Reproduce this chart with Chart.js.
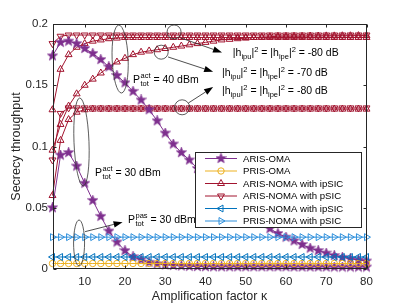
<!DOCTYPE html>
<html><head><meta charset="utf-8">
<script src="https://cdn.jsdelivr.net/npm/chart.js@4/dist/chart.umd.min.js"></script>
<style>
html,body{margin:0;padding:0;background:#fff;}
#wrap{position:relative;width:406px;height:305px;overflow:hidden;}
canvas{display:block;}
.ann{position:absolute;font-family:"Liberation Sans",Arial,Helvetica,sans-serif;font-size:10.5px;color:#000;white-space:nowrap;line-height:12px;transform:translateY(-50%);}
.ann sub,.ann sup{font-size:7.5px;line-height:0;}
.stk{display:inline-block;vertical-align:middle;line-height:8px;font-size:7.5px;text-align:left;margin-left:0.5px;}
</style></head>
<body>
<div id="wrap">
<canvas id="c" width="406" height="305"></canvas>
<div class="ann" id="t1">|h<sub>ipu</sub>|<sup>2</sup> = |h<sub>ipe</sub>|<sup>2</sup> = -80 dB</div>
<div class="ann" id="t2">|h<sub>ipu</sub>|<sup>2</sup> = |h<sub>ipe</sub>|<sup>2</sup> = -70 dB</div>
<div class="ann" id="t3">|h<sub>ipu</sub>|<sup>2</sup> = |h<sub>ipe</sub>|<sup>2</sup> = -80 dB</div>
<div class="ann" id="t4">P<span class="stk">act<br>tot</span> = 40 dBm</div>
<div class="ann" id="t5">P<span class="stk">act<br>tot</span> = 30 dBm</div>
<div class="ann" id="t6">P<span class="stk">pas<br>tot</span> = 30 dBm</div>
</div>
<script>
// ---- data ----
const xs = [2,4,6,8,10,12,14,16,18,20,22,24,26,28,30,32,34,36,38,40,42,44,46,48,50,52,54,56,58,60,62,64,66,68,70,72,74,76,78,80];
const xTicks = [10,20,30,40,50,60,70,80];
const yTicks = [0,0.05,0.1,0.15,0.2];

const arisOma40 = [0.174,0.185,0.186,0.184,0.180,0.176,0.171,0.165,0.158,0.152,0.145,0.138,0.130,0.121,0.111,0.102,0.095,0.089,0.082,0.076,0.070,0.064,0.058,0.053,0.048,0.043,0.038,0.033,0.029,0.026,0.023,0.020,0.017,0.015,0.013,0.011,0.0095,0.0083,0.0073,0.0065];
const arisOma30 = [0.050,0.093,0.095,0.084,0.070,0.056,0.043,0.031,0.022,0.015,0.010,0.0075,0.0055,0.0042,0.0034,0.0029,0.0025,0.0022,0.0020,0.0019,0.0018,0.0018,0.0018,0.0018,0.0018,0.0018,0.0018,0.0018,0.0018,0.0018,0.0017,0.0017,0.0017,0.0017,0.0017,0.0016,0.0016,0.0016,0.0016,0.0016];
const prisOma = [0.0045,0.0045,0.0045,0.0045,0.0045,0.0045,0.0045,0.0045,0.0045,0.0045,0.0045,0.0045,0.0045,0.0045,0.0045,0.0045,0.0045,0.0045,0.0045,0.0045,0.0045,0.0045,0.0045,0.0045,0.0045,0.0045,0.0045,0.0045,0.0045,0.0045,0.0045,0.0045,0.0045,0.0045,0.0045,0.0045,0.0045,0.0045,0.0045,0.0045];
const arisNomaIp40m80 = [0.130,0.163,0.175,0.181,0.184,0.186,0.187,0.188,0.1885,0.189,0.189,0.189,0.189,0.189,0.189,0.189,0.189,0.189,0.189,0.189,0.189,0.189,0.189,0.189,0.189,0.189,0.189,0.189,0.189,0.189,0.189,0.189,0.189,0.189,0.189,0.189,0.189,0.189,0.189,0.189];
const arisNomaIp40m70 = [0.097,0.118,0.133,0.143,0.150,0.155,0.160,0.165,0.169,0.172,0.175,0.177,0.178,0.179,0.180,0.181,0.182,0.183,0.184,0.185,0.186,0.187,0.1875,0.188,0.1885,0.189,0.1893,0.1896,0.190,0.190,0.190,0.190,0.1902,0.1902,0.1903,0.1903,0.1904,0.1904,0.1905,0.1905];
const arisNomaIp30m80 = [0.060,0.105,0.122,0.128,0.130,0.1305,0.1305,0.1305,0.1305,0.1305,0.1305,0.1305,0.1305,0.1305,0.1305,0.1305,0.1305,0.1305,0.1305,0.1305,0.1305,0.1305,0.1305,0.1305,0.1305,0.1305,0.1305,0.1305,0.1305,0.1305,0.1305,0.1305,0.1305,0.1305,0.1305,0.1305,0.1305,0.1305,0.1305,0.1305];
const arisNomaP40 = [0.184,0.190,0.191,0.191,0.191,0.191,0.191,0.191,0.191,0.191,0.191,0.191,0.191,0.191,0.191,0.191,0.191,0.191,0.191,0.191,0.191,0.191,0.191,0.191,0.191,0.191,0.191,0.191,0.191,0.191,0.191,0.191,0.191,0.191,0.191,0.191,0.191,0.191,0.191,0.191];
const arisNomaP30 = [0.089,0.127,0.1315,0.1315,0.1315,0.1315,0.1315,0.1315,0.1315,0.1315,0.1315,0.1315,0.1315,0.1315,0.1315,0.1315,0.1315,0.1315,0.1315,0.1315,0.1315,0.1315,0.1315,0.1315,0.1315,0.1315,0.1315,0.1315,0.1315,0.1315,0.1315,0.1315,0.1315,0.1315,0.1315,0.1315,0.1315,0.1315,0.1315,0.1315];
const prisNomaIp = [0.0098,0.0098,0.0098,0.0098,0.0098,0.0098,0.0098,0.0098,0.0098,0.0098,0.0098,0.0098,0.0098,0.0098,0.0098,0.0098,0.0098,0.0098,0.0098,0.0098,0.0098,0.0098,0.0098,0.0098,0.0098,0.0098,0.0098,0.0098,0.0098,0.0098,0.0098,0.0098,0.0098,0.0098,0.0098,0.0098,0.0098,0.0098,0.0098,0.0098];
const prisNomaP = [0.026,0.026,0.026,0.026,0.026,0.026,0.026,0.026,0.026,0.026,0.026,0.026,0.026,0.026,0.026,0.026,0.026,0.026,0.026,0.026,0.026,0.026,0.026,0.026,0.026,0.026,0.026,0.026,0.026,0.026,0.026,0.026,0.026,0.026,0.026,0.026,0.026,0.026,0.026,0.026];

const legendLabels = ['ARIS-OMA','PRIS-OMA','ARIS-NOMA with ipSIC','ARIS-NOMA with pSIC','PRIS-NOMA with ipSIC','PRIS-NOMA with pSIC'];

// ---- styling ----
const COL = {purple:'#7E2F8E', orange:'#EDB120', red:'#A2142F', blue1:'#0072BD', blue2:'#2E8FDB'};
function makeStar(size){
  const c=document.createElement('canvas'); c.width=size; c.height=size;
  const g=c.getContext('2d'); const h=size/2;
  g.beginPath();
  for(let i=0;i<10;i++){const r=i%2?h*0.42:h*0.98; const a=-Math.PI/2+i*Math.PI/5; g.lineTo(h+r*Math.cos(a),h+r*Math.sin(a));}
  g.closePath(); g.fillStyle=COL.purple; g.fill(); g.strokeStyle=COL.purple; g.lineWidth=0.6; g.stroke();
  return c;
}
const starImg = makeStar(11);
const NONE='rgba(0,0,0,0)';
const TR=4;
function pts(ys){ return xs.map((x,i)=>({x:x,y:ys[i]})); }
function ds(legendIdx, ys, color, style, rot, radius, fill){
  return {label:legendLabels[legendIdx], legendIdx:legendIdx, data:pts(ys), borderColor:color, backgroundColor:fill||NONE,
    borderWidth:1, pointStyle:style, pointRotation:rot||0, pointRadius:radius, pointBorderWidth:1,
    pointBorderColor:color, pointBackgroundColor:fill||NONE, tension:0, clip:false};
}
const datasets = [
  ds(5, prisNomaP, COL.blue2, 'triangle', 90, TR),
  ds(4, prisNomaIp, COL.blue1, 'triangle', 270, TR),
  ds(1, prisOma, COL.orange, 'circle', 0, 3.2),
  ds(0, arisOma40, COL.purple, starImg, 0, 5, COL.purple),
  ds(0, arisOma30, COL.purple, starImg, 0, 5, COL.purple),
  ds(3, arisNomaP40, COL.red, 'triangle', 180, TR),
  ds(3, arisNomaP30, COL.red, 'triangle', 180, TR),
  ds(2, arisNomaIp40m80, COL.red, 'triangle', 0, TR),
  ds(2, arisNomaIp40m70, COL.red, 'triangle', 0, TR),
  ds(2, arisNomaIp30m80, COL.red, 'triangle', 0, TR)
];
const legendStyles = [
  {color:COL.purple, style:'star'}, {color:COL.orange, style:'circle'}, {color:COL.red, style:'tri', rot:0},
  {color:COL.red, style:'tri', rot:180}, {color:COL.blue1, style:'tri', rot:270}, {color:COL.blue2, style:'tri', rot:90}
];

// annotation anchors (data units), sizes in px
const ellipses = [
  {x:18.8, y:0.1714, rx:8, ry:34, rot:-0.04},
  {x:9.2, y:0.1037, rx:7.5, ry:44, rot:-0.04},
  {x:8.6, y:0.0212, rx:5.5, ry:23, rot:0},
  {x:32.2, y:0.1935, rx:7, ry:7, rot:0},
  {x:29.0, y:0.177, rx:7, ry:7, rot:0},
  {x:34.2, y:0.132, rx:7.5, ry:7.5, rot:0}
];
const arrows = [
  {x1:33.9, y1:0.1886, x2:44.1, y2:0.1768},
  {x1:30.7, y1:0.1731, x2:41.9, y2:0.1610},
  {x1:35.8, y1:0.1356, x2:41.9, y2:0.1485},
  {x1:10.1, y1:0.0305, x2:19.4, y2:0.0382}
];
const texts = [
  {id:'t1', x:46.8, y:0.1771},
  {id:'t2', x:44.1, y:0.1608},
  {id:'t3', x:44.1, y:0.1461},
  {id:'t4', x:22.0, y:0.1543},
  {id:'t5', x:12.56, y:0.0784},
  {id:'t6', x:20.75, y:0.0400}
];

const FONT = '"Liberation Sans", Arial, Helvetica, sans-serif';
const AX = '#262626';

function drawMarker(ctx, s, x, y){
  ctx.save();
  ctx.strokeStyle=s.color; ctx.lineWidth=1;
  if(s.style==='star'){ ctx.drawImage(starImg, x-5.5, y-5.5); }
  else if(s.style==='circle'){ ctx.beginPath(); ctx.arc(x,y,3.2,0,Math.PI*2); ctx.stroke(); }
  else { const r=TR; let a=(s.rot||0)*Math.PI/180; ctx.beginPath();
    for(let i=0;i<3;i++){ ctx.lineTo(x+Math.sin(a)*r, y-Math.cos(a)*r); a+=2*Math.PI/3; }
    ctx.closePath(); ctx.stroke(); }
  ctx.restore();
}

const framePlugin = {
  id:'frame',
  afterDatasetsDraw(chart){
    const {ctx, chartArea:a, scales:{x,y}} = chart;
    ctx.save();
    ctx.strokeStyle=AX; ctx.lineWidth=1;
    const L=Math.round(a.left)+0.5, R=Math.round(a.right)-0.5, T=Math.round(a.top)+0.5, B=Math.round(a.bottom)-0.5;
    ctx.strokeRect(L,T,R-L,B-T);
    ctx.beginPath();
    xTicks.forEach(v=>{const p=Math.round(x.getPixelForValue(v))+0.5; ctx.moveTo(p,B); ctx.lineTo(p,B-3); ctx.moveTo(p,T); ctx.lineTo(p,T+3);});
    yTicks.forEach(v=>{const p=Math.round(y.getPixelForValue(v))+0.5; ctx.moveTo(L,p); ctx.lineTo(L+3,p); ctx.moveTo(R,p); ctx.lineTo(R-3,p);});
    ctx.stroke();
    ctx.strokeStyle='#333'; ctx.fillStyle='#000'; ctx.lineWidth=0.8;
    ellipses.forEach(e=>{ ctx.beginPath(); ctx.ellipse(x.getPixelForValue(e.x), y.getPixelForValue(e.y), e.rx, e.ry, e.rot, 0, Math.PI*2); ctx.stroke(); });
    arrows.forEach(r=>{
      const x1=x.getPixelForValue(r.x1), y1=y.getPixelForValue(r.y1), x2=x.getPixelForValue(r.x2), y2=y.getPixelForValue(r.y2);
      const ang=Math.atan2(y2-y1,x2-x1), hl=9, hw=3.2;
      const bx=x2-Math.cos(ang)*hl, by=y2-Math.sin(ang)*hl;
      ctx.strokeStyle='#222'; ctx.beginPath(); ctx.moveTo(x1,y1); ctx.lineTo(bx,by); ctx.stroke();
      ctx.beginPath(); ctx.moveTo(x2,y2);
      ctx.lineTo(bx+Math.sin(ang)*hw, by-Math.cos(ang)*hw);
      ctx.lineTo(bx-Math.sin(ang)*hw, by+Math.cos(ang)*hw);
      ctx.closePath(); ctx.fill();
    });
    const lx=195.5, ly=152.5, lw=166, lh=75;
    ctx.fillStyle='#fff'; ctx.fillRect(lx,ly,lw,lh);
    ctx.strokeStyle=AX; ctx.lineWidth=1; ctx.strokeRect(lx,ly,lw,lh);
    ctx.font='9.6px '+FONT; ctx.textBaseline='middle'; ctx.textAlign='left';
    legendLabels.forEach((lab,i)=>{
      const yy=158.5+i*12.5; const s=legendStyles[i];
      ctx.strokeStyle=s.color; ctx.lineWidth=1; ctx.beginPath(); ctx.moveTo(205,yy); ctx.lineTo(237,yy); ctx.stroke();
      drawMarker(ctx,s,221,yy);
      ctx.fillStyle='#000'; ctx.fillText(lab,243,yy+0.5);
    });
    ctx.restore();
    texts.forEach(t=>{const el=document.getElementById(t.id); el.style.left=x.getPixelForValue(t.x)+'px'; el.style.top=y.getPixelForValue(t.y)+'px';});
  }
};

new Chart(document.getElementById('c'), {
  type:'line',
  data:{datasets:datasets},
  options:{
    responsive:false, animation:false, devicePixelRatio:1,
    layout:{padding:{left:0,right:39.5,top:24,bottom:0}},
    plugins:{legend:{display:false}, tooltip:{enabled:false}},
    elements:{line:{borderJoinStyle:'round'}},
    scales:{
      x:{type:'linear', min:2, max:80,
        afterBuildTicks:s=>{ s.ticks = xTicks.map(v=>({value:v})); },
        afterFit:s=>{ s.height=36; },
        grid:{display:false, drawTicks:false}, border:{display:false},
        ticks:{padding:6, color:AX, font:{family:FONT, size:11.5}, maxRotation:0, autoSkip:false},
        title:{display:true, text:'Amplification factor κ', color:AX, font:{family:FONT, size:12.5}, padding:{top:0,bottom:1}}
      },
      y:{type:'linear', min:0, max:0.2,
        afterBuildTicks:s=>{ s.ticks = yTicks.map(v=>({value:v})); },
        afterFit:s=>{ s.width=52.5; },
        grid:{display:false, drawTicks:false}, border:{display:false},
        ticks:{padding:4.5, color:AX, font:{family:FONT, size:11.5}, callback:v=>String(v)},
        title:{display:true, text:'Secrecy throughput', color:AX, font:{family:FONT, size:12.5}, padding:{top:9,bottom:0}}
      }
    }
  },
  plugins:[framePlugin]
});
</script>
</body></html>
